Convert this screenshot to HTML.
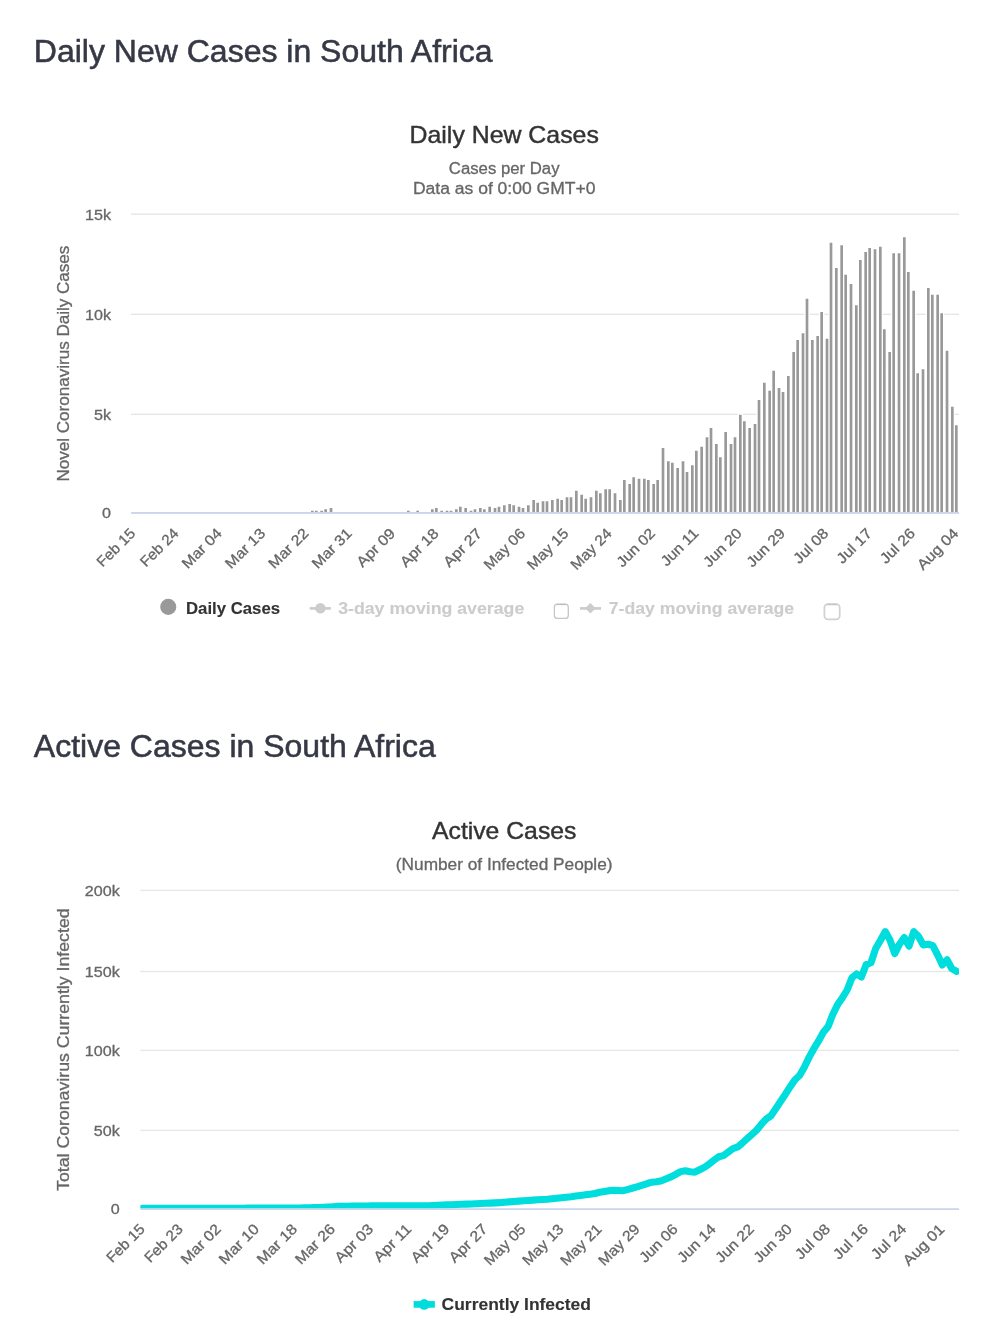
<!DOCTYPE html>
<html lang="en"><head><meta charset="utf-8"><title>South Africa Coronavirus: Daily New Cases and Active Cases</title>
<style>
html,body{margin:0;padding:0;background:#ffffff;}
body{width:982px;height:1322px;overflow:hidden;font-family:"Liberation Sans",sans-serif;}
#page{position:relative;width:982px;height:1322px;background:#ffffff;will-change:transform;}
#page h3{position:absolute;left:33.8px;margin:0;padding:0;font-family:"Liberation Sans",sans-serif;font-size:32px;line-height:36px;font-weight:normal;color:#363945;white-space:nowrap;-webkit-text-stroke:0.55px #363945;}
#h-daily{top:32.75px;}
#h-active{top:727.95px;}
#charts{position:absolute;left:0;top:0;display:block;}
#charts text{font-family:"Liberation Sans",sans-serif;}
</style></head><body>
<div id="page">
<svg id="charts" width="982" height="1322" viewBox="0 0 982 1322">
<text x="504.20" y="143.00" font-size="24" fill="#333333" text-anchor="middle" textLength="189.30" lengthAdjust="spacingAndGlyphs" stroke="#333333" stroke-width="0.42">Daily New Cases</text>
<text x="504.20" y="173.60" font-size="16" fill="#666666" text-anchor="middle" textLength="110.70" lengthAdjust="spacingAndGlyphs" stroke="#666666" stroke-width="0.3">Cases per Day</text>
<text x="504.20" y="194.00" font-size="16" fill="#666666" text-anchor="middle" textLength="182.59" lengthAdjust="spacingAndGlyphs" stroke="#666666" stroke-width="0.3">Data as of 0:00 GMT+0</text>
<rect x="131.00" y="213.53" width="828.00" height="1.33" fill="#e6e6e6"/>
<rect x="131.00" y="313.63" width="828.00" height="1.33" fill="#e6e6e6"/>
<rect x="131.00" y="413.63" width="828.00" height="1.33" fill="#e6e6e6"/>
<text x="111.00" y="219.70" font-size="14.67" fill="#666666" text-anchor="end" textLength="26.00" lengthAdjust="spacingAndGlyphs" stroke="#666666" stroke-width="0.3">15k</text>
<text x="111.00" y="319.80" font-size="14.67" fill="#666666" text-anchor="end" textLength="26.00" lengthAdjust="spacingAndGlyphs" stroke="#666666" stroke-width="0.3">10k</text>
<text x="111.00" y="419.80" font-size="14.67" fill="#666666" text-anchor="end" textLength="17.03" lengthAdjust="spacingAndGlyphs" stroke="#666666" stroke-width="0.3">5k</text>
<text x="111.00" y="518.40" font-size="14.67" fill="#666666" text-anchor="end" textLength="8.97" lengthAdjust="spacingAndGlyphs" stroke="#666666" stroke-width="0.3">0</text>
<text x="68.60" y="363.60" font-size="16" fill="#666666" text-anchor="middle" textLength="235.81" lengthAdjust="spacingAndGlyphs" transform="rotate(-90 68.60 363.60)" stroke="#666666" stroke-width="0.3">Novel Coronavirus Daily Cases</text>
<path d="M309.67 512.00V509.33h5.33V512.00zM313.67 512.00V509.33h5.33V512.00zM319.00 512.00V509.33h5.33V512.00zM323.00 512.00V508.00h5.33V512.00zM328.33 512.00V506.67h5.33V512.00zM405.67 512.00V509.33h5.33V512.00zM415.00 512.00V509.33h5.33V512.00zM429.67 512.00V508.00h5.33V512.00zM433.67 512.00V506.67h5.33V512.00zM439.00 512.00V509.33h5.33V512.00zM444.33 512.00V509.33h5.33V512.00zM448.33 512.00V509.33h5.33V512.00zM453.67 512.00V508.00h5.33V512.00zM457.67 512.00V505.33h5.33V512.00zM463.00 512.00V506.67h5.33V512.00zM468.33 512.00V509.33h5.33V512.00zM472.33 512.00V508.00h5.33V512.00zM477.67 512.00V506.67h5.33V512.00zM481.67 512.00V508.00h5.33V512.00zM487.00 512.00V505.33h5.33V512.00zM492.33 512.00V506.67h5.33V512.00zM496.33 512.00V505.33h5.33V512.00zM501.67 512.00V504.00h5.33V512.00zM507.00 512.00V502.67h5.33V512.00zM511.00 512.00V504.00h5.33V512.00zM516.33 512.00V505.33h5.33V512.00zM520.33 512.00V506.67h5.33V512.00zM525.67 512.00V504.00h5.33V512.00zM531.00 512.00V498.67h5.33V512.00zM535.00 512.00V501.33h5.33V512.00zM540.33 512.00V500.00h5.33V512.00zM544.33 512.00V500.00h5.33V512.00zM549.67 512.00V498.67h5.33V512.00zM555.00 512.00V497.33h5.33V512.00zM559.00 512.00V498.67h5.33V512.00zM564.33 512.00V496.00h5.33V512.00zM568.33 512.00V496.00h5.33V512.00zM573.67 512.00V489.33h5.33V512.00zM579.00 512.00V493.33h5.33V512.00zM583.00 512.00V497.33h5.33V512.00zM588.33 512.00V496.00h5.33V512.00zM593.67 512.00V489.33h5.33V512.00zM597.67 512.00V492.00h5.33V512.00zM603.00 512.00V488.00h5.33V512.00zM607.00 512.00V488.00h5.33V512.00zM612.33 512.00V492.00h5.33V512.00zM617.67 512.00V498.67h5.33V512.00zM621.67 512.00V478.67h5.33V512.00zM627.00 512.00V482.67h5.33V512.00zM631.00 512.00V476.00h5.33V512.00zM636.33 512.00V477.33h5.33V512.00zM641.67 512.00V477.33h5.33V512.00zM645.67 512.00V478.67h5.33V512.00zM651.00 512.00V482.67h5.33V512.00zM655.00 512.00V478.67h5.33V512.00zM660.33 512.00V446.67h5.33V512.00zM665.67 512.00V460.00h5.33V512.00zM669.67 512.00V461.33h5.33V512.00zM675.00 512.00V466.67h5.33V512.00zM680.33 512.00V460.00h5.33V512.00zM684.33 512.00V470.67h5.33V512.00zM689.67 512.00V464.00h5.33V512.00zM693.67 512.00V449.33h5.33V512.00zM699.00 512.00V445.33h5.33V512.00zM704.33 512.00V436.00h5.33V512.00zM708.33 512.00V426.67h5.33V512.00zM713.67 512.00V442.67h5.33V512.00zM717.67 512.00V456.00h5.33V512.00zM723.00 512.00V430.67h5.33V512.00zM728.33 512.00V442.67h5.33V512.00zM732.33 512.00V436.00h5.33V512.00zM737.67 512.00V413.33h5.33V512.00zM741.67 512.00V420.00h5.33V512.00zM747.00 512.00V426.67h5.33V512.00zM752.33 512.00V422.67h5.33V512.00zM756.33 512.00V398.67h5.33V512.00zM761.67 512.00V381.33h5.33V512.00zM767.00 512.00V389.33h5.33V512.00zM771.00 512.00V369.33h5.33V512.00zM776.33 512.00V386.67h5.33V512.00zM780.33 512.00V390.67h5.33V512.00zM785.67 512.00V374.67h5.33V512.00zM791.00 512.00V350.67h5.33V512.00zM795.00 512.00V338.67h5.33V512.00zM800.33 512.00V332.00h5.33V512.00zM804.33 512.00V297.33h5.33V512.00zM809.67 512.00V338.67h5.33V512.00zM815.00 512.00V334.67h5.33V512.00zM819.00 512.00V310.67h5.33V512.00zM824.33 512.00V337.33h5.33V512.00zM828.33 512.00V241.33h5.33V512.00zM833.67 512.00V266.67h5.33V512.00zM839.00 512.00V244.00h5.33V512.00zM843.00 512.00V273.33h5.33V512.00zM848.33 512.00V282.67h5.33V512.00zM853.67 512.00V304.00h5.33V512.00zM857.67 512.00V258.67h5.33V512.00zM863.00 512.00V250.67h5.33V512.00zM867.00 512.00V246.67h5.33V512.00zM872.33 512.00V248.00h5.33V512.00zM877.67 512.00V245.33h5.33V512.00zM881.67 512.00V328.00h5.33V512.00zM887.00 512.00V350.67h5.33V512.00zM891.00 512.00V252.00h5.33V512.00zM896.33 512.00V252.00h5.33V512.00zM901.67 512.00V236.00h5.33V512.00zM905.67 512.00V270.67h5.33V512.00zM911.00 512.00V289.33h5.33V512.00zM915.00 512.00V372.00h5.33V512.00zM920.33 512.00V368.00h5.33V512.00zM925.67 512.00V286.67h5.33V512.00zM929.67 512.00V293.33h5.33V512.00zM935.00 512.00V293.33h5.33V512.00zM939.00 512.00V312.00h5.33V512.00zM944.33 512.00V349.33h5.33V512.00zM949.67 512.00V405.33h5.33V512.00zM953.67 512.00V424.00h5.33V512.00z" fill="#ffffff"/>
<path d="M311.00 512.00V510.67h2.67V512.00zM315.00 512.00V510.67h2.67V512.00zM320.33 512.00V510.67h2.67V512.00zM324.33 512.00V509.33h2.67V512.00zM329.67 512.00V508.00h2.67V512.00zM407.00 512.00V510.67h2.67V512.00zM416.33 512.00V510.67h2.67V512.00zM431.00 512.00V509.33h2.67V512.00zM435.00 512.00V508.00h2.67V512.00zM440.33 512.00V510.67h2.67V512.00zM445.67 512.00V510.67h2.67V512.00zM449.67 512.00V510.67h2.67V512.00zM455.00 512.00V509.33h2.67V512.00zM459.00 512.00V506.67h2.67V512.00zM464.33 512.00V508.00h2.67V512.00zM469.67 512.00V510.67h2.67V512.00zM473.67 512.00V509.33h2.67V512.00zM479.00 512.00V508.00h2.67V512.00zM483.00 512.00V509.33h2.67V512.00zM488.33 512.00V506.67h2.67V512.00zM493.67 512.00V508.00h2.67V512.00zM497.67 512.00V506.67h2.67V512.00zM503.00 512.00V505.33h2.67V512.00zM508.33 512.00V504.00h2.67V512.00zM512.33 512.00V505.33h2.67V512.00zM517.67 512.00V506.67h2.67V512.00zM521.67 512.00V508.00h2.67V512.00zM527.00 512.00V505.33h2.67V512.00zM532.33 512.00V500.00h2.67V512.00zM536.33 512.00V502.67h2.67V512.00zM541.67 512.00V501.33h2.67V512.00zM545.67 512.00V501.33h2.67V512.00zM551.00 512.00V500.00h2.67V512.00zM556.33 512.00V498.67h2.67V512.00zM560.33 512.00V500.00h2.67V512.00zM565.67 512.00V497.33h2.67V512.00zM569.67 512.00V497.33h2.67V512.00zM575.00 512.00V490.67h2.67V512.00zM580.33 512.00V494.67h2.67V512.00zM584.33 512.00V498.67h2.67V512.00zM589.67 512.00V497.33h2.67V512.00zM595.00 512.00V490.67h2.67V512.00zM599.00 512.00V493.33h2.67V512.00zM604.33 512.00V489.33h2.67V512.00zM608.33 512.00V489.33h2.67V512.00zM613.67 512.00V493.33h2.67V512.00zM619.00 512.00V500.00h2.67V512.00zM623.00 512.00V480.00h2.67V512.00zM628.33 512.00V484.00h2.67V512.00zM632.33 512.00V477.33h2.67V512.00zM637.67 512.00V478.67h2.67V512.00zM643.00 512.00V478.67h2.67V512.00zM647.00 512.00V480.00h2.67V512.00zM652.33 512.00V484.00h2.67V512.00zM656.33 512.00V480.00h2.67V512.00zM661.67 512.00V448.00h2.67V512.00zM667.00 512.00V461.33h2.67V512.00zM671.00 512.00V462.67h2.67V512.00zM676.33 512.00V468.00h2.67V512.00zM681.67 512.00V461.33h2.67V512.00zM685.67 512.00V472.00h2.67V512.00zM691.00 512.00V465.33h2.67V512.00zM695.00 512.00V450.67h2.67V512.00zM700.33 512.00V446.67h2.67V512.00zM705.67 512.00V437.33h2.67V512.00zM709.67 512.00V428.00h2.67V512.00zM715.00 512.00V444.00h2.67V512.00zM719.00 512.00V457.33h2.67V512.00zM724.33 512.00V432.00h2.67V512.00zM729.67 512.00V444.00h2.67V512.00zM733.67 512.00V437.33h2.67V512.00zM739.00 512.00V414.67h2.67V512.00zM743.00 512.00V421.33h2.67V512.00zM748.33 512.00V428.00h2.67V512.00zM753.67 512.00V424.00h2.67V512.00zM757.67 512.00V400.00h2.67V512.00zM763.00 512.00V382.67h2.67V512.00zM768.33 512.00V390.67h2.67V512.00zM772.33 512.00V370.67h2.67V512.00zM777.67 512.00V388.00h2.67V512.00zM781.67 512.00V392.00h2.67V512.00zM787.00 512.00V376.00h2.67V512.00zM792.33 512.00V352.00h2.67V512.00zM796.33 512.00V340.00h2.67V512.00zM801.67 512.00V333.33h2.67V512.00zM805.67 512.00V298.67h2.67V512.00zM811.00 512.00V340.00h2.67V512.00zM816.33 512.00V336.00h2.67V512.00zM820.33 512.00V312.00h2.67V512.00zM825.67 512.00V338.67h2.67V512.00zM829.67 512.00V242.67h2.67V512.00zM835.00 512.00V268.00h2.67V512.00zM840.33 512.00V245.33h2.67V512.00zM844.33 512.00V274.67h2.67V512.00zM849.67 512.00V284.00h2.67V512.00zM855.00 512.00V305.33h2.67V512.00zM859.00 512.00V260.00h2.67V512.00zM864.33 512.00V252.00h2.67V512.00zM868.33 512.00V248.00h2.67V512.00zM873.67 512.00V249.33h2.67V512.00zM879.00 512.00V246.67h2.67V512.00zM883.00 512.00V329.33h2.67V512.00zM888.33 512.00V352.00h2.67V512.00zM892.33 512.00V253.33h2.67V512.00zM897.67 512.00V253.33h2.67V512.00zM903.00 512.00V237.33h2.67V512.00zM907.00 512.00V272.00h2.67V512.00zM912.33 512.00V290.67h2.67V512.00zM916.33 512.00V373.33h2.67V512.00zM921.67 512.00V369.33h2.67V512.00zM927.00 512.00V288.00h2.67V512.00zM931.00 512.00V294.67h2.67V512.00zM936.33 512.00V294.67h2.67V512.00zM940.33 512.00V313.33h2.67V512.00zM945.67 512.00V350.67h2.67V512.00zM951.00 512.00V406.67h2.67V512.00zM955.00 512.00V425.33h2.67V512.00z" fill="#999999"/>
<rect x="131.00" y="512.0" width="828.00" height="1.9" fill="#ccd6eb"/>
<text x="136.20" y="534.30" font-size="14.67" fill="#666666" text-anchor="end" textLength="47.47" lengthAdjust="spacingAndGlyphs" transform="rotate(-45 136.20 534.30)" stroke="#666666" stroke-width="0.3">Feb 15</text>
<text x="179.53" y="534.30" font-size="14.67" fill="#666666" text-anchor="end" textLength="47.47" lengthAdjust="spacingAndGlyphs" transform="rotate(-45 179.53 534.30)" stroke="#666666" stroke-width="0.3">Feb 24</text>
<text x="222.85" y="534.30" font-size="14.67" fill="#666666" text-anchor="end" textLength="49.73" lengthAdjust="spacingAndGlyphs" transform="rotate(-45 222.85 534.30)" stroke="#666666" stroke-width="0.3">Mar 04</text>
<text x="266.18" y="534.30" font-size="14.67" fill="#666666" text-anchor="end" textLength="49.73" lengthAdjust="spacingAndGlyphs" transform="rotate(-45 266.18 534.30)" stroke="#666666" stroke-width="0.3">Mar 13</text>
<text x="309.50" y="534.30" font-size="14.67" fill="#666666" text-anchor="end" textLength="49.73" lengthAdjust="spacingAndGlyphs" transform="rotate(-45 309.50 534.30)" stroke="#666666" stroke-width="0.3">Mar 22</text>
<text x="352.83" y="534.30" font-size="14.67" fill="#666666" text-anchor="end" textLength="49.73" lengthAdjust="spacingAndGlyphs" transform="rotate(-45 352.83 534.30)" stroke="#666666" stroke-width="0.3">Mar 31</text>
<text x="396.15" y="534.30" font-size="14.67" fill="#666666" text-anchor="end" textLength="47.51" lengthAdjust="spacingAndGlyphs" transform="rotate(-45 396.15 534.30)" stroke="#666666" stroke-width="0.3">Apr 09</text>
<text x="439.48" y="534.30" font-size="14.67" fill="#666666" text-anchor="end" textLength="47.51" lengthAdjust="spacingAndGlyphs" transform="rotate(-45 439.48 534.30)" stroke="#666666" stroke-width="0.3">Apr 18</text>
<text x="482.80" y="534.30" font-size="14.67" fill="#666666" text-anchor="end" textLength="47.51" lengthAdjust="spacingAndGlyphs" transform="rotate(-45 482.80 534.30)" stroke="#666666" stroke-width="0.3">Apr 27</text>
<text x="526.13" y="534.30" font-size="14.67" fill="#666666" text-anchor="end" textLength="51.43" lengthAdjust="spacingAndGlyphs" transform="rotate(-45 526.13 534.30)" stroke="#666666" stroke-width="0.3">May 06</text>
<text x="569.46" y="534.30" font-size="14.67" fill="#666666" text-anchor="end" textLength="51.43" lengthAdjust="spacingAndGlyphs" transform="rotate(-45 569.46 534.30)" stroke="#666666" stroke-width="0.3">May 15</text>
<text x="612.78" y="534.30" font-size="14.67" fill="#666666" text-anchor="end" textLength="51.43" lengthAdjust="spacingAndGlyphs" transform="rotate(-45 612.78 534.30)" stroke="#666666" stroke-width="0.3">May 24</text>
<text x="656.11" y="534.30" font-size="14.67" fill="#666666" text-anchor="end" textLength="47.54" lengthAdjust="spacingAndGlyphs" transform="rotate(-45 656.11 534.30)" stroke="#666666" stroke-width="0.3">Jun 02</text>
<text x="699.43" y="534.30" font-size="14.67" fill="#666666" text-anchor="end" textLength="46.36" lengthAdjust="spacingAndGlyphs" transform="rotate(-45 699.43 534.30)" stroke="#666666" stroke-width="0.3">Jun 11</text>
<text x="742.76" y="534.30" font-size="14.67" fill="#666666" text-anchor="end" textLength="47.54" lengthAdjust="spacingAndGlyphs" transform="rotate(-45 742.76 534.30)" stroke="#666666" stroke-width="0.3">Jun 20</text>
<text x="786.08" y="534.30" font-size="14.67" fill="#666666" text-anchor="end" textLength="47.54" lengthAdjust="spacingAndGlyphs" transform="rotate(-45 786.08 534.30)" stroke="#666666" stroke-width="0.3">Jun 29</text>
<text x="829.41" y="534.30" font-size="14.67" fill="#666666" text-anchor="end" textLength="42.65" lengthAdjust="spacingAndGlyphs" transform="rotate(-45 829.41 534.30)" stroke="#666666" stroke-width="0.3">Jul 08</text>
<text x="872.73" y="534.30" font-size="14.67" fill="#666666" text-anchor="end" textLength="42.65" lengthAdjust="spacingAndGlyphs" transform="rotate(-45 872.73 534.30)" stroke="#666666" stroke-width="0.3">Jul 17</text>
<text x="916.06" y="534.30" font-size="14.67" fill="#666666" text-anchor="end" textLength="42.65" lengthAdjust="spacingAndGlyphs" transform="rotate(-45 916.06 534.30)" stroke="#666666" stroke-width="0.3">Jul 26</text>
<text x="959.39" y="534.30" font-size="14.67" fill="#666666" text-anchor="end" textLength="51.56" lengthAdjust="spacingAndGlyphs" transform="rotate(-45 959.39 534.30)" stroke="#666666" stroke-width="0.3">Aug 04</text>
<circle cx="168.25" cy="606.9" r="8.05" fill="#999999"/>
<text x="186.00" y="613.90" font-size="16" fill="#333333" text-anchor="start" font-weight="bold" textLength="94.07" lengthAdjust="spacingAndGlyphs" stroke="#333333" stroke-width="0.12">Daily Cases</text>
<path d="M309.7 608.4H330.9" stroke="#cccccc" stroke-width="2.67" fill="none"/><circle cx="320.4" cy="608.3" r="5.2" fill="#cccccc"/>
<text x="338.20" y="613.90" font-size="16" fill="#cccccc" text-anchor="start" font-weight="bold" textLength="186.06" lengthAdjust="spacingAndGlyphs" stroke="#cccccc" stroke-width="0.12">3-day moving average</text>
<rect x="554.4" y="604.2" width="13.9" height="14.2" rx="3" fill="#ffffff" stroke="#c6c6c6" stroke-width="1.3"/><path d="M556.6 604.5H566.1" stroke="#bcbcbc" stroke-width="1.2" fill="none"/>
<path d="M580 608.4H601" stroke="#cccccc" stroke-width="2.67" fill="none"/><path d="M590.4 603l5.3 5.3l-5.3 5.3l-5.3-5.3z" fill="#cccccc"/>
<text x="608.80" y="613.90" font-size="16" fill="#cccccc" text-anchor="start" font-weight="bold" textLength="185.39" lengthAdjust="spacingAndGlyphs" stroke="#cccccc" stroke-width="0.12">7-day moving average</text>
<rect x="824.4" y="604.1" width="15.3" height="15.3" rx="3.6" fill="#ffffff" stroke="#d2d2d2" stroke-width="1.8"/><path d="M827.2 604.5H836.9" stroke="#c6c6c6" stroke-width="1.6" fill="none"/>
<text x="504.20" y="838.90" font-size="24" fill="#333333" text-anchor="middle" textLength="144.40" lengthAdjust="spacingAndGlyphs" stroke="#333333" stroke-width="0.42">Active Cases</text>
<text x="504.20" y="870.00" font-size="16" fill="#666666" text-anchor="middle" textLength="216.68" lengthAdjust="spacingAndGlyphs" stroke="#666666" stroke-width="0.3">(Number of Infected People)</text>
<rect x="140.33" y="889.73" width="818.67" height="1.33" fill="#e6e6e6"/>
<rect x="140.33" y="970.83" width="818.67" height="1.33" fill="#e6e6e6"/>
<rect x="140.33" y="1049.73" width="818.67" height="1.33" fill="#e6e6e6"/>
<rect x="140.33" y="1129.73" width="818.67" height="1.33" fill="#e6e6e6"/>
<text x="119.80" y="895.90" font-size="14.67" fill="#666666" text-anchor="end" textLength="34.98" lengthAdjust="spacingAndGlyphs" stroke="#666666" stroke-width="0.3">200k</text>
<text x="119.80" y="977.00" font-size="14.67" fill="#666666" text-anchor="end" textLength="34.98" lengthAdjust="spacingAndGlyphs" stroke="#666666" stroke-width="0.3">150k</text>
<text x="119.80" y="1055.90" font-size="14.67" fill="#666666" text-anchor="end" textLength="34.98" lengthAdjust="spacingAndGlyphs" stroke="#666666" stroke-width="0.3">100k</text>
<text x="119.80" y="1135.90" font-size="14.67" fill="#666666" text-anchor="end" textLength="26.00" lengthAdjust="spacingAndGlyphs" stroke="#666666" stroke-width="0.3">50k</text>
<text x="119.80" y="1213.70" font-size="14.67" fill="#666666" text-anchor="end" textLength="8.97" lengthAdjust="spacingAndGlyphs" stroke="#666666" stroke-width="0.3">0</text>
<text x="68.60" y="1049.70" font-size="16" fill="#666666" text-anchor="middle" textLength="282.54" lengthAdjust="spacingAndGlyphs" transform="rotate(-90 68.60 1049.70)" stroke="#666666" stroke-width="0.3">Total Coronavirus Currently Infected</text>
<rect x="140.33" y="1208.2" width="818.67" height="1.8" fill="#ccd6eb"/>
<clipPath id="c2"><rect x="140.33" y="880" width="818.67" height="328.20"/></clipPath>
<path clip-path="url(#c2)" d="M142.71 1208.20L147.47 1208.20L152.23 1208.20L156.99 1208.20L161.75 1208.20L166.51 1208.20L171.27 1208.20L176.03 1208.20L180.79 1208.20L185.55 1208.20L190.31 1208.20L195.07 1208.20L199.83 1208.20L204.59 1208.20L209.35 1208.20L214.11 1208.20L218.87 1208.20L223.63 1208.20L228.39 1208.20L233.15 1208.20L237.91 1208.19L242.67 1208.18L247.43 1208.17L252.19 1208.17L256.95 1208.16L261.71 1208.15L266.47 1208.14L271.22 1208.13L275.98 1208.13L280.74 1208.12L285.50 1208.07L290.26 1208.02L295.02 1207.97L299.78 1207.93L304.54 1207.88L309.30 1207.77L314.06 1207.67L318.82 1207.56L323.58 1207.32L328.34 1207.08L333.10 1206.74L337.86 1206.39L342.62 1206.30L347.38 1206.21L352.14 1206.17L356.90 1206.13L361.66 1206.05L366.42 1205.97L371.18 1205.89L375.94 1205.81L380.70 1205.73L385.46 1205.72L390.22 1205.72L394.98 1205.71L399.74 1205.70L404.50 1205.70L409.26 1205.70L414.02 1205.70L418.78 1205.70L423.53 1205.70L428.29 1205.70L433.05 1205.50L437.81 1205.30L442.57 1205.11L447.33 1204.91L452.09 1204.71L456.85 1204.52L461.61 1204.32L466.37 1204.13L471.13 1203.93L475.89 1203.74L480.65 1203.53L485.41 1203.31L490.17 1203.10L494.93 1202.88L499.69 1202.67L504.45 1202.29L509.21 1201.90L513.97 1201.51L518.73 1201.13L523.49 1200.74L528.25 1200.43L533.01 1200.12L537.77 1199.82L542.53 1199.51L547.29 1199.20L552.05 1198.70L556.81 1198.21L561.57 1197.72L566.33 1197.22L571.09 1196.73L575.84 1196.09L580.60 1195.45L585.36 1194.82L590.12 1194.18L594.88 1193.54L599.64 1192.31L604.40 1191.48L609.16 1190.64L613.92 1190.19L618.68 1190.45L623.44 1190.69L628.20 1189.36L632.96 1188.04L637.72 1186.66L642.48 1185.09L647.24 1183.51L652.00 1182.18L656.76 1181.66L661.52 1180.73L666.28 1178.82L671.04 1176.90L675.80 1174.29L680.56 1171.63L685.32 1170.72L690.08 1171.82L694.84 1172.13L699.60 1169.75L704.36 1167.37L709.12 1164.04L713.88 1160.26L718.64 1156.77L723.40 1155.60L728.16 1152.17L732.91 1148.53L737.67 1146.97L742.43 1143.01L747.19 1138.57L751.95 1134.32L756.71 1130.08L761.47 1124.19L766.23 1118.97L770.99 1115.77L775.75 1108.69L780.51 1101.55L785.27 1094.47L790.03 1086.90L794.79 1080.00L799.55 1075.50L804.31 1067.20L809.07 1057.40L813.83 1048.70L818.59 1040.94L823.35 1032.30L828.11 1026.48L832.87 1014.20L837.63 1004.56L842.39 997.74L847.15 990.00L851.91 977.84L856.67 973.87L861.43 976.95L866.19 964.55L870.95 962.79L875.71 948.49L880.47 940.28L885.22 931.61L889.98 940.06L894.74 953.53L899.50 944.19L904.26 937.52L909.02 946.11L913.78 931.62L918.54 936.48L923.30 945.00L928.06 944.25L932.82 945.69L937.58 954.85L942.34 964.94L947.10 959.81L951.86 968.74L956.62 971.30" fill="none" stroke="#00dddd" stroke-width="7.1" stroke-linejoin="round" stroke-linecap="round"/>
<text x="145.70" y="1230.00" font-size="14.67" fill="#666666" text-anchor="end" textLength="47.47" lengthAdjust="spacingAndGlyphs" transform="rotate(-45 145.70 1230.00)" stroke="#666666" stroke-width="0.3">Feb 15</text>
<text x="183.78" y="1230.00" font-size="14.67" fill="#666666" text-anchor="end" textLength="47.47" lengthAdjust="spacingAndGlyphs" transform="rotate(-45 183.78 1230.00)" stroke="#666666" stroke-width="0.3">Feb 23</text>
<text x="221.86" y="1230.00" font-size="14.67" fill="#666666" text-anchor="end" textLength="49.73" lengthAdjust="spacingAndGlyphs" transform="rotate(-45 221.86 1230.00)" stroke="#666666" stroke-width="0.3">Mar 02</text>
<text x="259.93" y="1230.00" font-size="14.67" fill="#666666" text-anchor="end" textLength="49.73" lengthAdjust="spacingAndGlyphs" transform="rotate(-45 259.93 1230.00)" stroke="#666666" stroke-width="0.3">Mar 10</text>
<text x="298.01" y="1230.00" font-size="14.67" fill="#666666" text-anchor="end" textLength="49.73" lengthAdjust="spacingAndGlyphs" transform="rotate(-45 298.01 1230.00)" stroke="#666666" stroke-width="0.3">Mar 18</text>
<text x="336.09" y="1230.00" font-size="14.67" fill="#666666" text-anchor="end" textLength="49.73" lengthAdjust="spacingAndGlyphs" transform="rotate(-45 336.09 1230.00)" stroke="#666666" stroke-width="0.3">Mar 26</text>
<text x="374.17" y="1230.00" font-size="14.67" fill="#666666" text-anchor="end" textLength="47.51" lengthAdjust="spacingAndGlyphs" transform="rotate(-45 374.17 1230.00)" stroke="#666666" stroke-width="0.3">Apr 03</text>
<text x="412.24" y="1230.00" font-size="14.67" fill="#666666" text-anchor="end" textLength="46.30" lengthAdjust="spacingAndGlyphs" transform="rotate(-45 412.24 1230.00)" stroke="#666666" stroke-width="0.3">Apr 11</text>
<text x="450.32" y="1230.00" font-size="14.67" fill="#666666" text-anchor="end" textLength="47.51" lengthAdjust="spacingAndGlyphs" transform="rotate(-45 450.32 1230.00)" stroke="#666666" stroke-width="0.3">Apr 19</text>
<text x="488.40" y="1230.00" font-size="14.67" fill="#666666" text-anchor="end" textLength="47.51" lengthAdjust="spacingAndGlyphs" transform="rotate(-45 488.40 1230.00)" stroke="#666666" stroke-width="0.3">Apr 27</text>
<text x="526.48" y="1230.00" font-size="14.67" fill="#666666" text-anchor="end" textLength="51.43" lengthAdjust="spacingAndGlyphs" transform="rotate(-45 526.48 1230.00)" stroke="#666666" stroke-width="0.3">May 05</text>
<text x="564.55" y="1230.00" font-size="14.67" fill="#666666" text-anchor="end" textLength="51.43" lengthAdjust="spacingAndGlyphs" transform="rotate(-45 564.55 1230.00)" stroke="#666666" stroke-width="0.3">May 13</text>
<text x="602.63" y="1230.00" font-size="14.67" fill="#666666" text-anchor="end" textLength="51.43" lengthAdjust="spacingAndGlyphs" transform="rotate(-45 602.63 1230.00)" stroke="#666666" stroke-width="0.3">May 21</text>
<text x="640.71" y="1230.00" font-size="14.67" fill="#666666" text-anchor="end" textLength="51.43" lengthAdjust="spacingAndGlyphs" transform="rotate(-45 640.71 1230.00)" stroke="#666666" stroke-width="0.3">May 29</text>
<text x="678.79" y="1230.00" font-size="14.67" fill="#666666" text-anchor="end" textLength="47.54" lengthAdjust="spacingAndGlyphs" transform="rotate(-45 678.79 1230.00)" stroke="#666666" stroke-width="0.3">Jun 06</text>
<text x="716.86" y="1230.00" font-size="14.67" fill="#666666" text-anchor="end" textLength="47.54" lengthAdjust="spacingAndGlyphs" transform="rotate(-45 716.86 1230.00)" stroke="#666666" stroke-width="0.3">Jun 14</text>
<text x="754.94" y="1230.00" font-size="14.67" fill="#666666" text-anchor="end" textLength="47.54" lengthAdjust="spacingAndGlyphs" transform="rotate(-45 754.94 1230.00)" stroke="#666666" stroke-width="0.3">Jun 22</text>
<text x="793.02" y="1230.00" font-size="14.67" fill="#666666" text-anchor="end" textLength="47.54" lengthAdjust="spacingAndGlyphs" transform="rotate(-45 793.02 1230.00)" stroke="#666666" stroke-width="0.3">Jun 30</text>
<text x="831.10" y="1230.00" font-size="14.67" fill="#666666" text-anchor="end" textLength="42.65" lengthAdjust="spacingAndGlyphs" transform="rotate(-45 831.10 1230.00)" stroke="#666666" stroke-width="0.3">Jul 08</text>
<text x="869.17" y="1230.00" font-size="14.67" fill="#666666" text-anchor="end" textLength="42.65" lengthAdjust="spacingAndGlyphs" transform="rotate(-45 869.17 1230.00)" stroke="#666666" stroke-width="0.3">Jul 16</text>
<text x="907.25" y="1230.00" font-size="14.67" fill="#666666" text-anchor="end" textLength="42.65" lengthAdjust="spacingAndGlyphs" transform="rotate(-45 907.25 1230.00)" stroke="#666666" stroke-width="0.3">Jul 24</text>
<text x="945.33" y="1230.00" font-size="14.67" fill="#666666" text-anchor="end" textLength="51.56" lengthAdjust="spacingAndGlyphs" transform="rotate(-45 945.33 1230.00)" stroke="#666666" stroke-width="0.3">Aug 01</text>
<path d="M413.6 1304.4H434.9" stroke="#00dddd" stroke-width="6.67" fill="none"/><circle cx="424.2" cy="1304.4" r="5.3" fill="#00dddd"/>
<text x="441.60" y="1309.80" font-size="16" fill="#333333" text-anchor="start" font-weight="bold" textLength="149.38" lengthAdjust="spacingAndGlyphs" stroke="#333333" stroke-width="0.12">Currently Infected</text>
</svg>
<h3 id="h-daily">Daily New Cases in South Africa</h3>
<h3 id="h-active">Active Cases in South Africa</h3>
</div>
</body></html>
